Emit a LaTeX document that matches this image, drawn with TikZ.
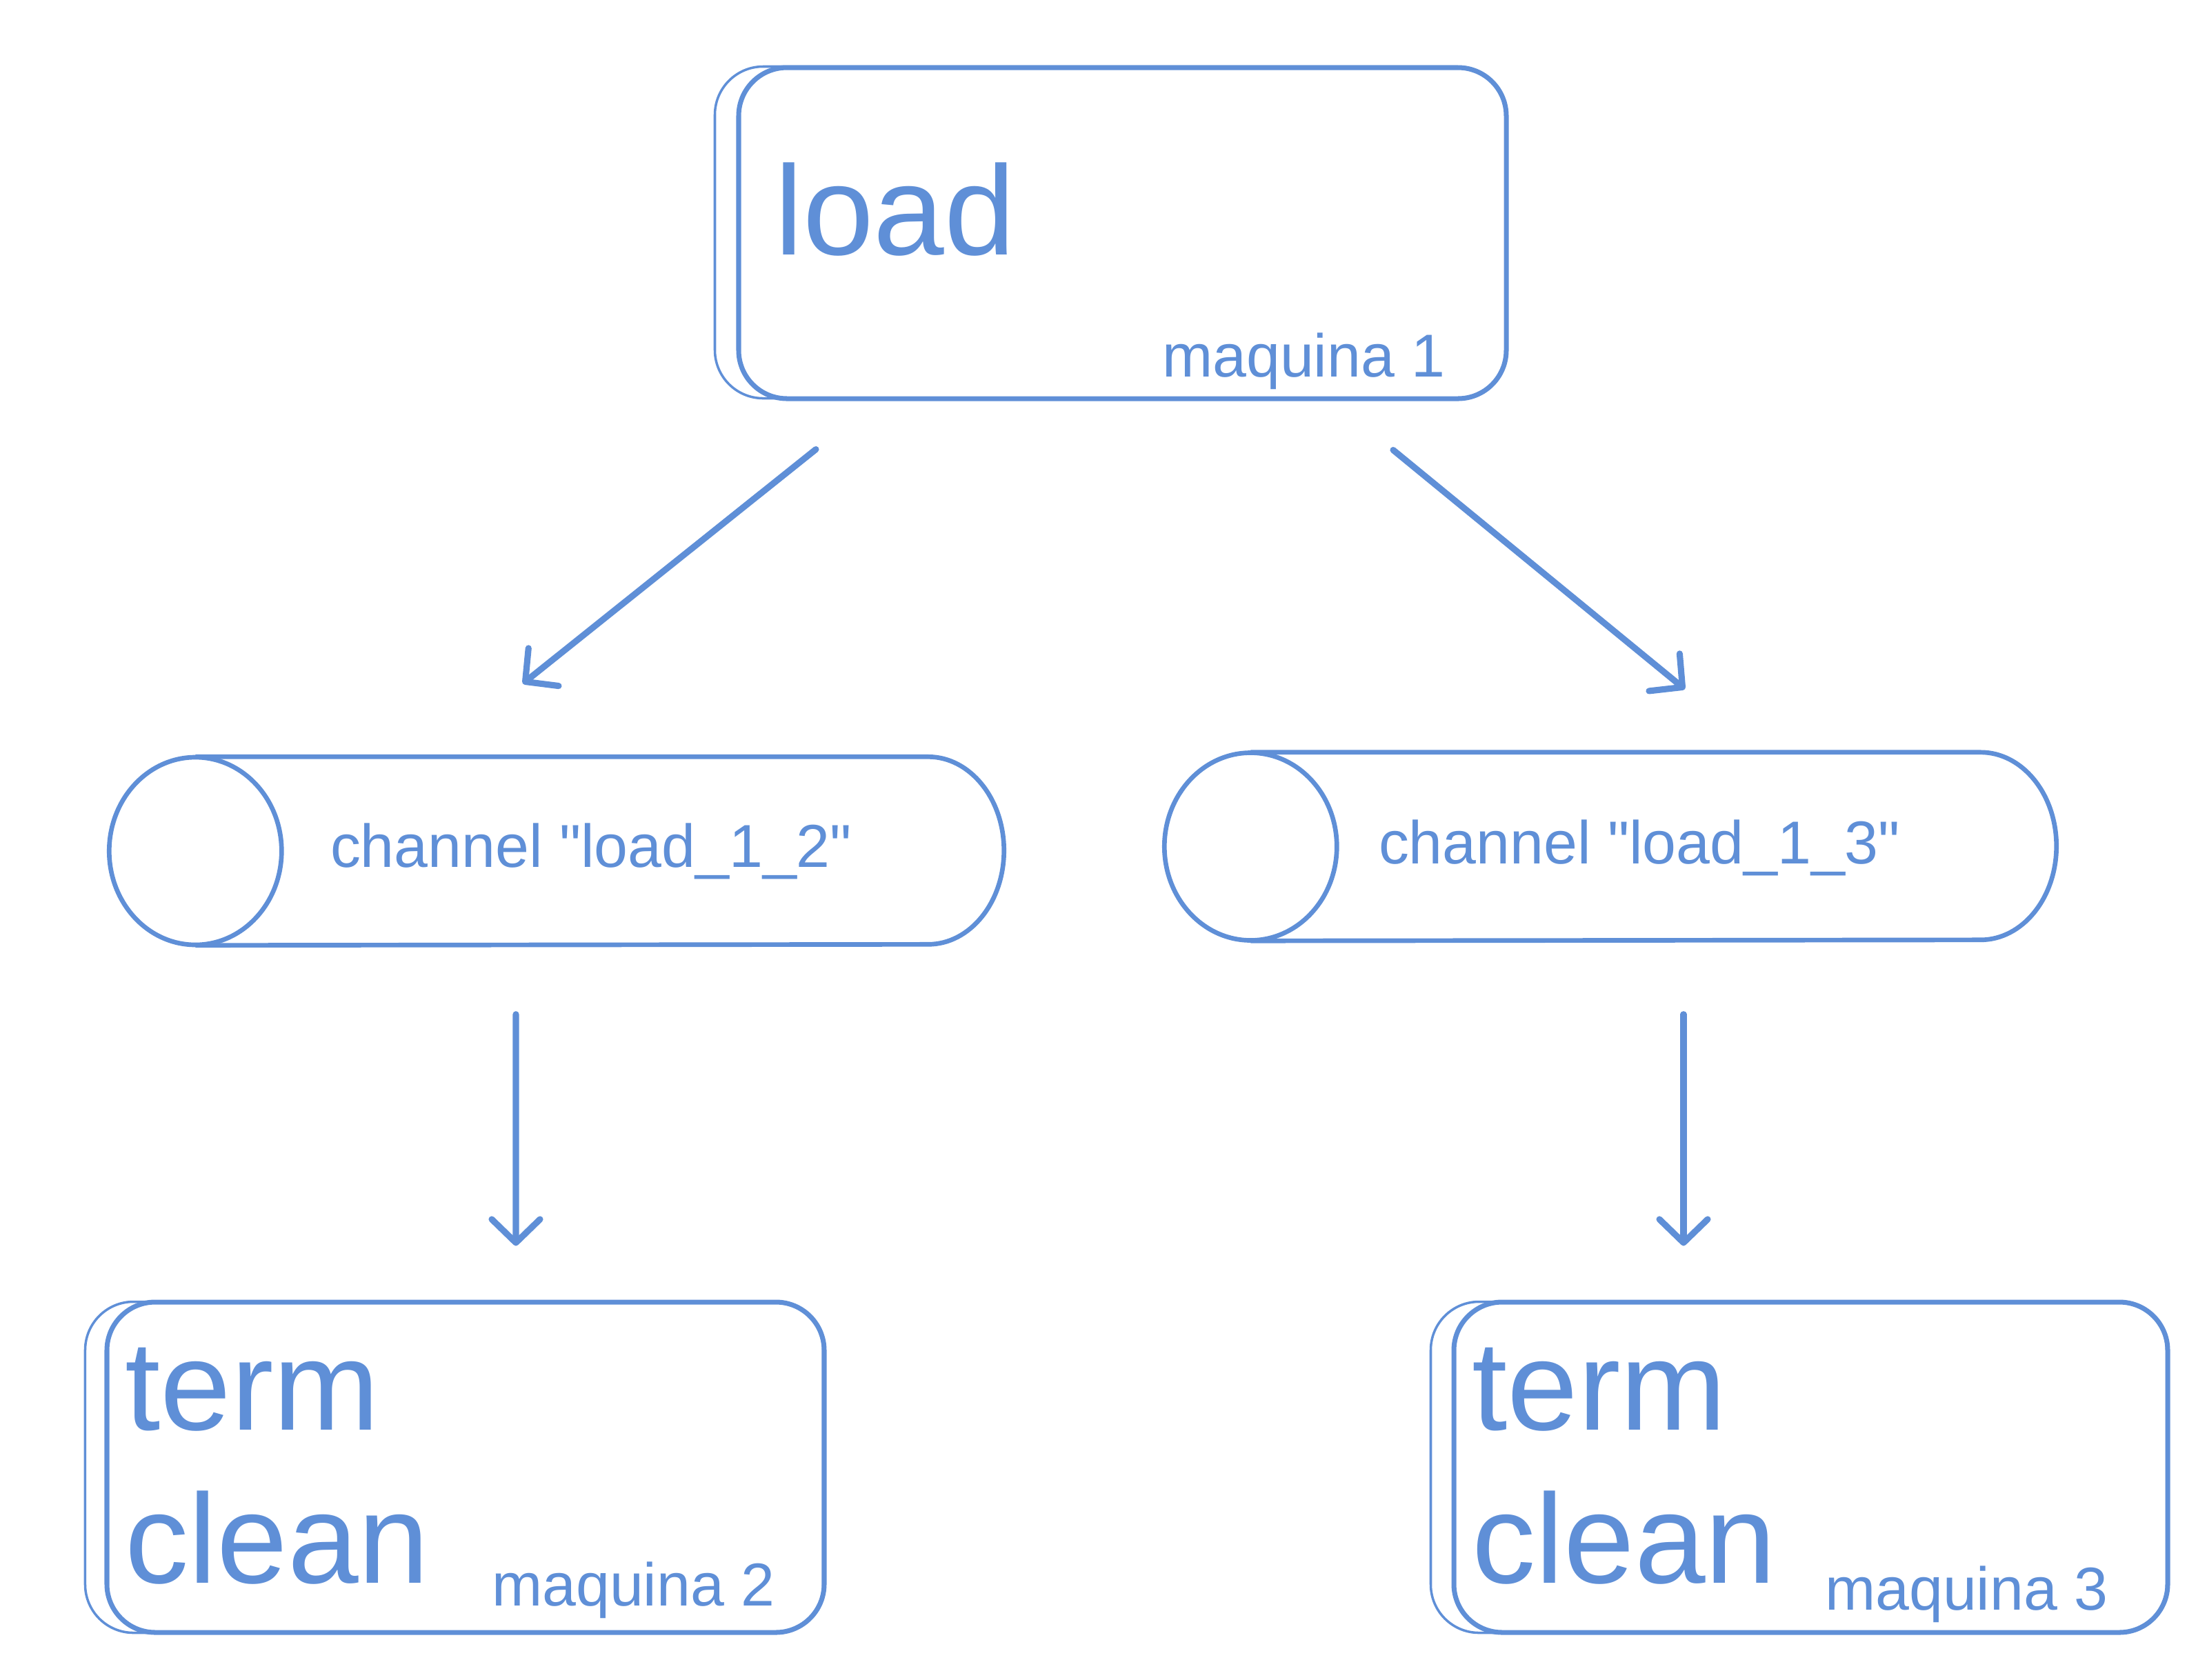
\documentclass[tikz,border=0pt]{standalone}
\usepackage{fontspec}
\newfontfamily\sketchfont{Liberation Sans}
\usepackage{xcolor}
\usepackage{tikz}
\usetikzlibrary{arrows.meta}
\definecolor{sketch}{RGB}{95,143,215}

\begin{document}
\begin{tikzpicture}[>={Straight Barb[length=3.4mm,width=7mm,round]},
  box/.style={draw=sketch, line width=2pt, rounded corners=7mm, inner sep=0pt},
  ghost/.style={draw=sketch, line width=1pt, rounded corners=7mm},
  pipe/.style={draw=sketch, line width=1.9pt},
  flow/.style={->, draw=sketch, line width=2.6pt, line cap=round},
  big/.style={text=sketch, font=\sketchfont\fontsize{52.5}{63}\selectfont, inner sep=0pt, anchor=base west},
  small/.style={text=sketch, font=\sketchfont\fontsize{25}{30}\selectfont, inner sep=0pt, anchor=base west}]
  % canvas: 1 unit = 100px of the sketch, y runs downwards
  \useasboundingbox (0,0) rectangle (32,-24.35);
  % ============= Top: load on maquina 1 =============
  \node[box, minimum width=11.13cm, minimum height=4.80cm] (load) at (16.275,-3.38) {};
  \draw[ghost] ([shift={(-0.31,-0.02)}]load.north west) rectangle ([shift={(-0.04,0.04)}]load.south east);
  \node[big] (loadtxt) at ([shift={(0.55,-2.75)}]load.north west) {load};
  \node[small] (m1) at ([shift={(-5.03,0.35)}]load.south east) {maquina 1};
  % ============= Middle: the two channels =============
  \node[minimum width=12.96cm, minimum height=2.72cm, inner sep=0pt] (ch12) at (8.07,-12.34) {};
  \draw[pipe] ([xshift=1.25cm]ch12.north west) -- ([xshift=-1.1cm]ch12.north east)
    arc[start angle=90, end angle=-90, x radius=1.1cm, y radius=1.36cm]
    -- ([xshift=1.25cm]ch12.south west);
  \draw[pipe] ([xshift=1.25cm]ch12.west) ellipse [x radius=1.25cm, y radius=1.36cm];
  \node[small] (ch12txt) at ([shift={(3.20,-0.23)}]ch12.west) {channel "load\_1\_2"};
  \node[minimum width=12.92cm, minimum height=2.72cm, inner sep=0pt] (ch13) at (23.35,-12.275) {};
  \draw[pipe] ([xshift=1.25cm]ch13.north west) -- ([xshift=-1.1cm]ch13.north east)
    arc[start angle=90, end angle=-90, x radius=1.1cm, y radius=1.36cm]
    -- ([xshift=1.25cm]ch13.south west);
  \draw[pipe] ([xshift=1.25cm]ch13.west) ellipse [x radius=1.25cm, y radius=1.36cm];
  \node[small] (ch13txt) at ([shift={(3.10,-0.25)}]ch13.west) {channel "load\_1\_3"};
  % ============= Bottom: term/clean on maquina 2 and 3 =============
  \node[box, minimum width=10.40cm, minimum height=4.79cm] (bl) at (6.75,-21.275) {};
  \draw[ghost] ([shift={(-0.28,-0.03)}]bl.north west) rectangle ([shift={(-0.05,0.03)}]bl.south east);
  \node[big] (term2) at ([shift={(0.29,-1.89)}]bl.north west) {term};
  \node[big] (clean2) at ([shift={(0.29,-4.11)}]bl.north west) {clean};
  \node[small] (m2) at ([shift={(-4.86,0.42)}]bl.south east) {maquina 2};
  \node[box, minimum width=10.35cm, minimum height=4.79cm] (br) at (26.255,-21.275) {};
  \draw[ghost] ([shift={(-0.30,-0.03)}]br.north west) rectangle ([shift={(-0.05,0.03)}]br.south east);
  \node[big] (term3) at ([shift={(0.29,-1.89)}]br.north west) {term};
  \node[big] (clean3) at ([shift={(0.29,-4.11)}]br.north west) {clean};
  \node[small] (m3) at ([shift={(-5.01,0.36)}]br.south east) {maquina 3};
  % --- arrows ---
  \draw[flow] ([shift={(-4.445,-0.70)}]load.south) -- ([shift={(-0.49,1.06)}]ch12.north);
  \draw[flow] ([shift={(3.925,-0.71)}]load.south) -- ([shift={(1.08,0.915)}]ch13.north);
  \draw[flow] ([shift={(-0.59,-1.00)}]ch12.south) -- ([shift={(0.73,0.78)}]bl.north);
  \draw[flow] ([shift={(1.06,-1.065)}]ch13.south) -- ([shift={(-1.845,0.78)}]br.north);
\end{tikzpicture}
\end{document}
